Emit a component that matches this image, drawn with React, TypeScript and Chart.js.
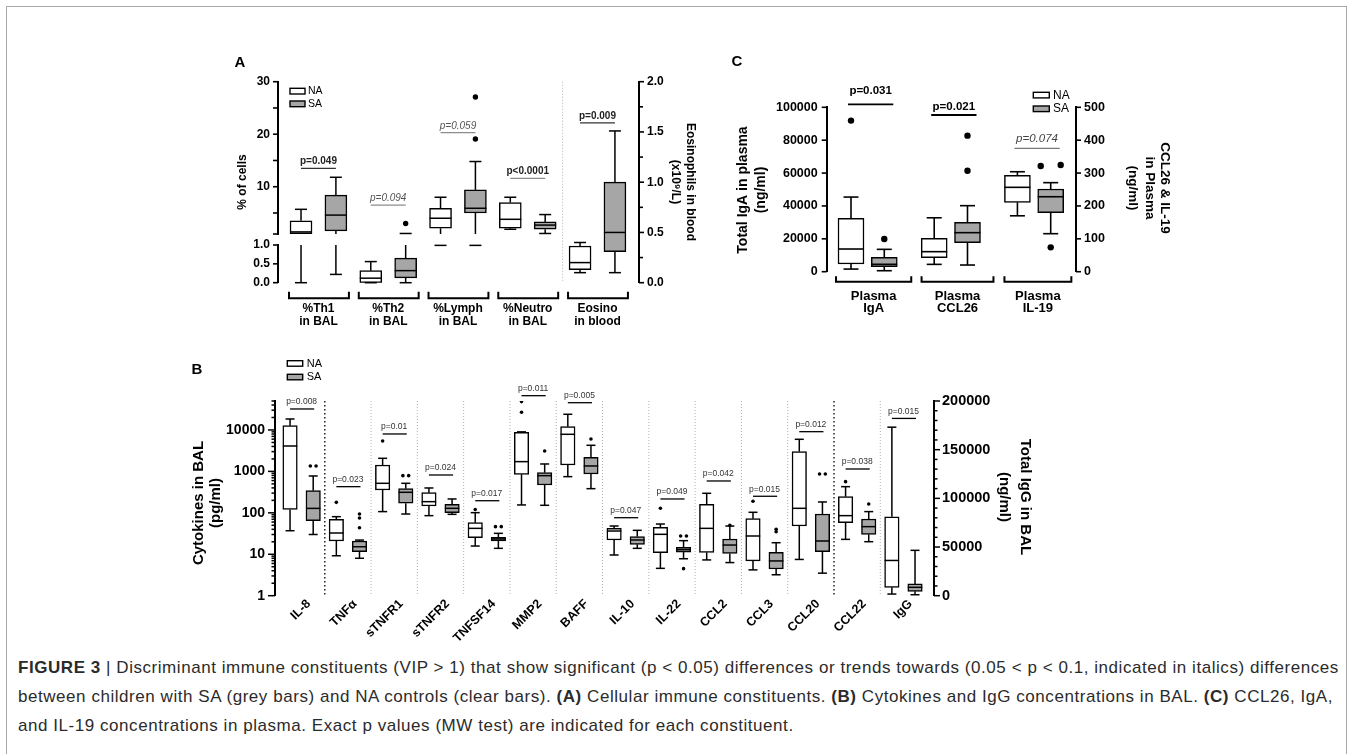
import React, { useEffect, useRef } from 'react';
import { Chart, registerables } from 'chart.js';

Chart.register(...registerables);

const FONT = "'Liberation Sans', Arial, Helvetica, sans-serif";
Chart.defaults.font.family = FONT;

const WHITE = '#ffffff';
const GREY = '#a6a6a6';

/* ====================== Panel A : cellular constituents ====================== */
const A_LABELS: string[][] = [
  ['%Th1', 'in BAL'],
  ['%Th2', 'in BAL'],
  ['%Lymph', 'in BAL'],
  ['%Neutro', 'in BAL'],
  ['Eosino', 'in blood'],
];
const A_AXIS = ['left', 'left', 'left', 'left', 'right'];
// [min, Q1, median, Q3, max]
const A_NA: number[][] = [
  [0, 1.05, 1.4, 3.5, 5.7],
  [0, 0, 0.12, 0.32, 0.56],
  [0.99, 2.1, 4.0, 5.9, 8.0],
  [1.9, 2.1, 3.8, 7.0, 8.0],
  [0.1, 0.13, 0.2, 0.365, 0.4],
];
const A_SA: number[][] = [
  [0.22, 1.6, 4.6, 8.4, 11.8],
  [0, 0.13, 0.32, 0.65, 1.1],
  [0.99, 5.0, 5.9, 9.4, 14.8],
  [1.1, 1.9, 2.7, 3.3, 4.7],
  [0.1, 0.31, 0.5, 1.0, 1.51],
];
const A_NA_OUT: number[][] = [[], [], [], [], []];
const A_SA_OUT: number[][] = [[], [3.0], [19.1, 27.1], [], []];
const A_P_TEXT = ['p=0.049', 'p=0.094', 'p=0.059', 'p<0.0001', 'p=0.009'];
const A_P_ITALIC = [false, true, true, false, false];
const A_P_LEVEL = [13.5, 6.5, 20.3, 11.6, 1.59];
const A_TOP_TICKS = [1, 5, 10, 15, 20, 25, 30];
const A_BOT_TICKS = [0, 0.5, 1];
const A_RIGHT_TICKS = [0, 0.25, 0.5, 0.75, 1, 1.25, 1.5, 1.75, 2];
const A_P_LINE_COLOR = ['#333', '#8c8c8c', '#8c8c8c', '#8c8c8c', '#333'];

/* ====================== Panel B : cytokines & IgG in BAL ====================== */
const B_LABELS = ['IL-8', 'TNFα', 'sTNFR1', 'sTNFR2', 'TNFSF14', 'MMP2', 'BAFF', 'IL-10', 'IL-22', 'CCL2', 'CCL3', 'CCL20', 'CCL22', 'IgG'];
const B_AXIS = ['left', 'left', 'left', 'left', 'left', 'left', 'left', 'left', 'left', 'left', 'left', 'left', 'left', 'right'];
const B_NA: number[][] = [
  [37, 121, 4100, 12700, 18400],
  [9.2, 20.9, 32.6, 69.7, 80.8],
  [107, 356, 516, 1429, 2070],
  [85.5, 146, 186, 307, 398],
  [15.8, 25.1, 42.2, 57.9, 101],
  [155, 851, 1720, 8790, 9000],
  [747, 1429, 7860, 12030, 23900],
  [9.6, 22.1, 36.4, 42.2, 48.1],
  [4.57, 10.9, 30.3, 44.7, 53.7],
  [7.3, 11.1, 42.2, 160, 296],
  [4.2, 6.9, 27.6, 72.3, 103],
  [7.5, 48, 128.5, 3000, 5955],
  [22.9, 57.9, 85.5, 245.6, 428],
  [1700, 8600, 36200, 81000, 173100],
];
const B_SA: number[][] = [
  [30, 64.7, 128, 343, 775],
  [8, 11.5, 15.2, 20.9, 22],
  [93.7, 170, 313, 383, 516],
  [92, 101, 128.5, 160, 216],
  [13.9, 20.9, 23.4, 25.6, 32],
  [152, 470, 789, 933, 1510],
  [383, 866, 1352, 2188, 4265],
  [13.9, 17.4, 22.1, 26.6, 37.8],
  [7.8, 11.3, 12.9, 14.7, 21.3],
  [6.3, 10.5, 16.7, 23.4, 48],
  [3.2, 4.4, 6.9, 11.1, 19],
  [3.5, 11.5, 20.9, 93.7, 183],
  [20.1, 30.3, 46.4, 71, 107],
  [1000, 4500, 8600, 12100, 46600],
];
const B_NA_OUT: number[][] = [[], [179], [5420], [], [120], [26700, 48300], [], [], [128.5], [], [190], [], [566], []];
const B_SA_OUT: number[][] = [[1352, 1352], [93.7, 75, 43.8], [789, 789], [], [46.4, 46.4], [3110], [6064], [], [27.6, 27.6, 4.5], [50], [40, 35], [866, 866], [163], []];
const B_P_TEXT = ['p=0.008', 'p=0.023', 'p=0.01', 'p=0.024', 'p=0.017', 'p=0.011', 'p=0.005', 'p=0.047', 'p=0.049', 'p=0.042', 'p=0.015', 'p=0.012', 'p=0.038', 'p=0.015'];
const B_P_LEVEL = [32100, 428, 8000, 819, 196, 67200, 45500, 76.3, 216, 587, 251, 9090, 1143, 182100];
const B_LEFT_TICKS = [1, 10, 100, 1000, 10000]
  .reduce((acc: number[], d) => acc.concat([1, 2, 3, 4, 5, 6, 7, 8, 9].map((m) => m * d)), [])
  .filter((v) => v <= 50000);
const B_RIGHT_TICKS = Array.from({ length: 21 }, (_, i) => i * 10000);
const B_DARK_SEPARATORS = [0, 11];

/* ====================== Panel C : plasma ====================== */
const C_LABELS: string[][] = [
  ['Plasma', 'IgA'],
  ['Plasma', 'CCL26'],
  ['Plasma', 'IL-19'],
];
const C_AXIS = ['left', 'right', 'right'];
const C_NA: number[][] = [
  [1600, 4700, 13800, 32400, 45400],
  [22.3, 42.6, 60.9, 101.4, 164],
  [170, 211, 256.6, 293, 304],
];
const C_SA: number[][] = [
  [600, 3000, 4500, 8700, 13600],
  [20.3, 88, 118.7, 150, 200.8],
  [115.6, 179.5, 228, 251.5, 270.8],
];
const C_NA_OUT: number[][] = [[91900], [], []];
const C_SA_OUT: number[][] = [[19900], [307, 413.8], [74, 321.5, 324.5]];
const C_P_TEXT = ['p=0.031', 'p=0.021', 'p=0.074'];
const C_P_ITALIC = [false, false, true];
const C_P_LEVEL = [101800, 476.6, 375.3];
const C_LEFT_TICKS = [0, 20000, 40000, 60000, 80000, 100000];
const C_RIGHT_TICKS = [0, 100, 200, 300, 400, 500];
const C_POS_NA = [0, 2.5, 5];
const C_POS_SA = [1, 3.5, 6];
// layout of the group brackets (x units)
const C_BRACKET_L = [-0.45, 2.12, 4.61];
const C_BRACKET_R = [1.81, 4.28, 6.62];
const C_P_TEXT_DY = [13.5, 8, 10];

/* ====================== helpers ====================== */
type Seg = { id: string; lo: number; hi: number };
type BoxItem = { x: number; s: number[]; segs: Seg[]; half: number; cap: number };
type TickSpec = { id: string; side: 'left' | 'right'; values: number[]; major: (v: number) => boolean; majorLen: number; minorLen: number };

const ALL = (id: string): Seg[] => [{ id, lo: -Infinity, hi: Infinity }];

function segPixel(chart: any, segs: Seg[], v: number): number {
  for (const s of segs) if (v >= s.lo && v <= s.hi) return chart.scales[s.id].getPixelForValue(v);
  const s = v > segs[0].hi ? segs[0] : segs[segs.length - 1];
  return chart.scales[s.id].getPixelForValue(v);
}

function boxDatasets(xs: number[], stats: number[][], segsFor: (i: number) => Seg[], fill: string, thick: number, lw: number) {
  const byScale: Record<string, { x: number; y: number[] }[]> = {};
  stats.forEach((s, i) => {
    for (const seg of segsFor(i)) {
      const lo = Math.max(s[1], seg.lo);
      const hi = Math.min(s[3], seg.hi);
      if (hi > lo) (byScale[seg.id] = byScale[seg.id] || []).push({ x: xs[i], y: [lo, hi] });
    }
  });
  return Object.keys(byScale).map((id) => ({
    type: 'bar',
    yAxisID: id,
    data: byScale[id],
    backgroundColor: fill,
    borderColor: '#000',
    borderWidth: lw,
    borderSkipped: false,
    barThickness: thick,
    grouped: false,
    order: 2,
  }));
}

function outlierDatasets(xs: number[], outs: number[][], segsFor: (i: number) => Seg[], spread: number, r: number) {
  const byScale: Record<string, { x: number; y: number }[]> = {};
  outs.forEach((arr, i) => {
    arr.forEach((v, k) => {
      const grp = arr.map((_, j) => j).filter((j) => Math.abs(arr[j] - v) <= 0.03 * Math.abs(v));
      const rank = grp.indexOf(k);
      const dx = (rank - (grp.length - 1) / 2) * spread;
      const segs = segsFor(i);
      const seg = segs.find((s) => v >= s.lo && v <= s.hi) || segs[0];
      (byScale[seg.id] = byScale[seg.id] || []).push({ x: xs[i] + dx, y: v });
    });
  });
  return Object.keys(byScale).map((id) => ({
    type: 'scatter',
    yAxisID: id,
    data: byScale[id],
    pointRadius: r,
    pointHoverRadius: r,
    pointBackgroundColor: '#000',
    pointBorderWidth: 0,
    borderWidth: 0,
    showLine: false,
    order: 1,
  }));
}

function whiskerPlugin(items: BoxItem[], lw: number) {
  return {
    id: 'whiskers',
    afterDatasetsDraw(chart: any) {
      const ctx = chart.ctx;
      const X = chart.scales.x;
      ctx.save();
      ctx.strokeStyle = '#000';
      ctx.lineWidth = lw;
      const vline = (px: number, segs: Seg[], a: number, b: number) => {
        const lo = Math.min(a, b);
        const hi = Math.max(a, b);
        for (const s of segs) {
          const l = Math.max(lo, s.lo);
          const h = Math.min(hi, s.hi);
          if (h > l) {
            const sc = chart.scales[s.id];
            ctx.beginPath();
            ctx.moveTo(px, sc.getPixelForValue(l));
            ctx.lineTo(px, sc.getPixelForValue(h));
            ctx.stroke();
          }
        }
      };
      const hline = (px: number, segs: Seg[], half: number, v: number) => {
        for (const s of segs) {
          if (v >= s.lo && v <= s.hi) {
            const y = chart.scales[s.id].getPixelForValue(v);
            ctx.beginPath();
            ctx.moveTo(px - half, y);
            ctx.lineTo(px + half, y);
            ctx.stroke();
            break;
          }
        }
      };
      for (const it of items) {
        const px = X.getPixelForValue(it.x);
        const [mn, q1, md, q3, mx] = it.s;
        vline(px, it.segs, q3, mx);
        vline(px, it.segs, mn, q1);
        hline(px, it.segs, it.cap, mx);
        hline(px, it.segs, it.cap, mn);
        hline(px, it.segs, it.half, md);
      }
      ctx.restore();
    },
  };
}

function tickPlugin(specs: TickSpec[], lw: number) {
  return {
    id: 'tickmarks',
    afterDraw(chart: any) {
      const ctx = chart.ctx;
      ctx.save();
      ctx.strokeStyle = '#000';
      ctx.lineWidth = lw;
      for (const sp of specs) {
        const sc = chart.scales[sp.id];
        const x0 = sp.side === 'left' ? sc.right : sc.left;
        const dir = sp.side === 'left' ? -1 : 1;
        for (const v of sp.values) {
          const y = sc.getPixelForValue(v);
          const len = sp.major(v) ? sp.majorLen : sp.minorLen;
          ctx.beginPath();
          ctx.moveTo(x0, y);
          ctx.lineTo(x0 + dir * len, y);
          ctx.stroke();
        }
      }
      ctx.restore();
    },
  };
}

function txt(ctx: any, s: string, x: number, y: number, font: string, color = '#000', align = 'center', rot = 0) {
  ctx.save();
  ctx.translate(x, y);
  if (rot) ctx.rotate(rot);
  ctx.font = font;
  ctx.fillStyle = color;
  ctx.textAlign = align;
  ctx.textBaseline = 'middle';
  ctx.fillText(s, 0, 0);
  ctx.restore();
}

function seg(ctx: any, x1: number, y1: number, x2: number, y2: number, color: string, lw: number, dash: number[] = []) {
  ctx.save();
  ctx.strokeStyle = color;
  ctx.lineWidth = lw;
  ctx.setLineDash(dash);
  ctx.beginPath();
  ctx.moveTo(x1, y1);
  ctx.lineTo(x2, y2);
  ctx.stroke();
  ctx.restore();
}

function bracket(ctx: any, x1: number, x2: number, y: number, up: number, lw: number) {
  ctx.save();
  ctx.strokeStyle = '#000';
  ctx.lineWidth = lw;
  ctx.lineJoin = 'miter';
  ctx.beginPath();
  ctx.moveTo(x1, y - up);
  ctx.lineTo(x1, y);
  ctx.lineTo(x2, y);
  ctx.lineTo(x2, y - up);
  ctx.stroke();
  ctx.restore();
}

function legendBox(ctx: any, x: number, y: number, w: number, h: number, fill: string) {
  ctx.save();
  ctx.fillStyle = fill;
  ctx.fillRect(x, y, w, h);
  ctx.strokeStyle = '#000';
  ctx.lineWidth = 1.4;
  ctx.strokeRect(x, y, w, h);
  ctx.restore();
}

function yScale(o: any) {
  return {
    type: o.type || 'linear',
    position: o.position,
    min: o.min,
    max: o.max,
    stack: o.stack,
    stackWeight: o.stackWeight,
    weight: o.weight || 0,
    afterBuildTicks: (s: any) => {
      s.ticks = o.ticks.map((v: number) => ({ value: v }));
    },
    afterFit: (s: any) => {
      s.width = o.width;
    },
    ticks: {
      autoSkip: false,
      padding: o.padding,
      color: '#000',
      font: { family: FONT, size: o.size, weight: 'bold' },
      callback: (v: any) => o.label(Number(v)),
    },
    grid: { display: false, drawTicks: false },
    border: { display: true, color: '#000', width: 2 },
  };
}

function makeChart(canvas: HTMLCanvasElement, datasets: any[], scales: any, plugins: any[], padding: any) {
  return new Chart(canvas, {
    type: 'bar',
    data: { datasets },
    options: {
      responsive: false,
      animation: false,
      events: [],
      layout: { padding },
      plugins: { legend: { display: false }, tooltip: { enabled: false } },
      scales,
    },
    plugins,
  } as any);
}

const isHalf = (v: number) => Math.abs(v * 2 - Math.round(v * 2)) < 1e-6;
const isPow10 = (v: number) => v > 0 && Math.abs(Math.log10(v) - Math.round(Math.log10(v))) < 1e-9;

/* ====================== Panel A ====================== */
function buildA(canvas: HTMLCanvasElement) {
  const OX = 200;
  const OY = 40;
  const xNA = A_LABELS.map((_, i) => 2 * i);
  const xSA = A_LABELS.map((_, i) => 2 * i + 1);
  const LEFT: Seg[] = [
    { id: 'yTop', lo: 1, hi: 30 },
    { id: 'yBot', lo: 0, hi: 1 },
  ];
  const RIGHT = ALL('yR');
  const segsFor = (i: number) => (A_AXIS[i] === 'right' ? RIGHT : LEFT);
  const datasets = [
    ...boxDatasets(xNA, A_NA, segsFor, WHITE, 22, 1.5),
    ...boxDatasets(xSA, A_SA, segsFor, GREY, 22, 1.5),
    ...outlierDatasets(xNA, A_NA_OUT, segsFor, 0.2, 2.7),
    ...outlierDatasets(xSA, A_SA_OUT, segsFor, 0.2, 2.7),
  ];
  const items: BoxItem[] = [
    ...xNA.map((x, i) => ({ x, s: A_NA[i], segs: segsFor(i), half: 11, cap: 6 })),
    ...xSA.map((x, i) => ({ x, s: A_SA[i], segs: segsFor(i), half: 11, cap: 6 })),
  ];
  const scales = {
    x: { type: 'linear', display: false, min: -0.66, max: 9.69, offset: false },
    yTop: yScale({ position: 'left', min: 1, max: 30, ticks: A_TOP_TICKS, label: (v: number) => (v % 10 === 0 ? String(v) : ''), width: 78, size: 12, padding: 8, stack: 'A', stackWeight: 152.3, weight: 3 }),
    yGap: { type: 'linear', position: 'left', min: 0, max: 1, display: false, stack: 'A', stackWeight: 11, weight: 2 },
    yBot: yScale({ position: 'left', min: 0, max: 1, ticks: A_BOT_TICKS, label: (v: number) => v.toFixed(1), width: 78, size: 12, padding: 8, stack: 'A', stackWeight: 37.7, weight: 1 }),
    yR: yScale({ position: 'right', min: 0, max: 2, ticks: A_RIGHT_TICKS, label: (v: number) => (isHalf(v) ? v.toFixed(1) : ''), width: 81, size: 12, padding: 8 }),
  };
  const ticks = tickPlugin(
    [
      { id: 'yTop', side: 'left', values: A_TOP_TICKS, major: () => true, majorLen: 5, minorLen: 5 },
      { id: 'yBot', side: 'left', values: A_BOT_TICKS, major: () => true, majorLen: 5, minorLen: 5 },
      { id: 'yR', side: 'right', values: A_RIGHT_TICKS, major: isHalf, majorLen: 5, minorLen: 4 },
    ],
    1.6
  );
  const annot = {
    id: 'annotA',
    beforeDatasetsDraw(chart: any) {
      const X = chart.scales.x;
      const a = chart.chartArea;
      const sx = X.getPixelForValue(7.5);
      seg(chart.ctx, sx, a.top, sx, a.bottom, '#b0b0b0', 1, [1, 2]);
    },
    afterDraw(chart: any) {
      const ctx = chart.ctx;
      const X = chart.scales.x;
      txt(ctx, 'A', 240 - OX, 63 - OY, `bold 15px ${FONT}`);
      legendBox(ctx, 290 - OX, 88.3 - OY, 15, 5.7, WHITE);
      legendBox(ctx, 290 - OX, 101 - OY, 15, 5.7, GREY);
      txt(ctx, 'NA', 308 - OX, 91.5 - OY, `10.5px ${FONT}`, '#000', 'left');
      txt(ctx, 'SA', 308 - OX, 104.5 - OY, `10.5px ${FONT}`, '#000', 'left');
      txt(ctx, '% of cells', 243 - OX, 182 - OY, `bold 12px ${FONT}`, '#000', 'center', -Math.PI / 2);
      txt(ctx, 'Eosinophils in blood', 690 - OX, 182 - OY, `bold 12px ${FONT}`, '#000', 'center', Math.PI / 2);
      txt(ctx, '(x10⁹/L)', 675 - OX, 182 - OY, `bold 12px ${FONT}`, '#000', 'center', Math.PI / 2);
      A_LABELS.forEach((lab, i) => {
        const p1 = X.getPixelForValue(xNA[i]);
        const p2 = X.getPixelForValue(xSA[i]);
        bracket(ctx, p1 - 12, p2 + 13, 298.3 - OY, 6.5, 2);
        const cx = (p1 + p2) / 2;
        txt(ctx, lab[0], cx, 308.5 - OY, `bold 12px ${FONT}`);
        txt(ctx, lab[1], cx, 322 - OY, `bold 12px ${FONT}`);
        const y = segPixel(chart, segsFor(i), A_P_LEVEL[i]);
        seg(ctx, p1, y, p2, y, A_P_LINE_COLOR[i], 1.3);
        const it = A_P_ITALIC[i];
        txt(ctx, A_P_TEXT[i], cx, y - 6.8, `${it ? 'italic ' : 'bold '}10px ${FONT}`, it ? '#555' : '#222');
      });
    },
  };
  return makeChart(canvas, datasets, scales, [whiskerPlugin(items, 1.5), ticks, annot], { top: 41.7, bottom: 52.3, left: 0, right: 0 });
}

/* ====================== Panel B ====================== */
function buildB(canvas: HTMLCanvasElement) {
  const OX = 185;
  const OY = 335;
  const xNA = B_LABELS.map((_, i) => 2 * i);
  const xSA = B_LABELS.map((_, i) => 2 * i + 1);
  const segsFor = (i: number) => (B_AXIS[i] === 'right' ? ALL('yR') : ALL('yL'));
  const datasets = [
    ...boxDatasets(xNA, B_NA, segsFor, WHITE, 14.5, 1.5),
    ...boxDatasets(xSA, B_SA, segsFor, GREY, 14.5, 1.5),
    ...outlierDatasets(xNA, B_NA_OUT, segsFor, 0.25, 1.8),
    ...outlierDatasets(xSA, B_SA_OUT, segsFor, 0.25, 1.8),
  ];
  const items: BoxItem[] = [
    ...xNA.map((x, i) => ({ x, s: B_NA[i], segs: segsFor(i), half: 7.25, cap: 4.5 })),
    ...xSA.map((x, i) => ({ x, s: B_SA[i], segs: segsFor(i), half: 7.25, cap: 4.5 })),
  ];
  const scales = {
    x: { type: 'linear', display: false, min: -0.65, max: 27.82, offset: false },
    yL: yScale({ type: 'logarithmic', position: 'left', min: 1, max: 50000, ticks: B_LEFT_TICKS, label: (v: number) => (isPow10(v) ? String(Math.round(v)) : ''), width: 90, size: 14, padding: 10 }),
    yR: yScale({ position: 'right', min: 0, max: 200000, ticks: B_RIGHT_TICKS, label: (v: number) => (v % 50000 === 0 ? String(v) : ''), width: 106, size: 14.5, padding: 8 }),
  };
  const ticks = tickPlugin(
    [
      { id: 'yL', side: 'left', values: B_LEFT_TICKS, major: isPow10, majorLen: 7, minorLen: 3.5 },
      { id: 'yR', side: 'right', values: B_RIGHT_TICKS, major: (v: number) => v % 50000 === 0, majorLen: 6, minorLen: 3.5 },
    ],
    1.5
  );
  const annot = {
    id: 'annotB',
    beforeDatasetsDraw(chart: any) {
      const X = chart.scales.x;
      const a = chart.chartArea;
      for (let g = 0; g < B_LABELS.length - 1; g++) {
        const sx = X.getPixelForValue(2 * g + 1.5);
        if (B_DARK_SEPARATORS.indexOf(g) >= 0) seg(chart.ctx, sx, a.top, sx, a.bottom, '#222', 1.5, [1.5, 2.5]);
        else seg(chart.ctx, sx, a.top, sx, a.bottom, '#b0b0b0', 1, [1, 2]);
      }
    },
    afterDraw(chart: any) {
      const ctx = chart.ctx;
      const X = chart.scales.x;
      txt(ctx, 'B', 197 - OX, 370 - OY, `bold 15px ${FONT}`);
      legendBox(ctx, 287.3 - OX, 360.7 - OY, 15.4, 5.5, WHITE);
      legendBox(ctx, 287.3 - OX, 374.3 - OY, 15.4, 5.5, GREY);
      txt(ctx, 'NA', 306.7 - OX, 363.7 - OY, `11px ${FONT}`, '#000', 'left');
      txt(ctx, 'SA', 306.7 - OX, 377.3 - OY, `11px ${FONT}`, '#000', 'left');
      txt(ctx, 'Cytokines in BAL', 199 - OX, 503 - OY, `bold 15px ${FONT}`, '#000', 'center', -Math.PI / 2);
      txt(ctx, '(pg/ml)', 215.5 - OX, 503 - OY, `bold 15px ${FONT}`, '#000', 'center', -Math.PI / 2);
      txt(ctx, 'Total IgG in BAL', 1025 - OX, 497 - OY, `bold 15px ${FONT}`, '#000', 'center', Math.PI / 2);
      txt(ctx, '(ng/ml)', 1004 - OX, 497 - OY, `bold 15px ${FONT}`, '#000', 'center', Math.PI / 2);
      B_LABELS.forEach((lab, i) => {
        const p1 = X.getPixelForValue(xNA[i]);
        const p2 = X.getPixelForValue(xSA[i]);
        const cx = (p1 + p2) / 2;
        txt(ctx, lab, cx + 7, 602 - OY, `bold 12.5px ${FONT}`, '#000', 'right', -Math.PI / 4);
        const y = segPixel(chart, segsFor(i), B_P_LEVEL[i]);
        seg(ctx, p1, y, p2 + 1, y, '#000', 1.3);
        txt(ctx, B_P_TEXT[i], cx, y - 7, `8.5px ${FONT}`, '#333');
      });
    },
  };
  return makeChart(canvas, datasets, scales, [whiskerPlugin(items, 1.5), ticks, annot], { top: 66, bottom: 54.3, left: 0, right: 0 });
}

/* ====================== Panel C ====================== */
function buildC(canvas: HTMLCanvasElement) {
  const OX = 725;
  const OY = 50;
  const segsFor = (i: number) => (C_AXIS[i] === 'right' ? ALL('yR') : ALL('yL'));
  const datasets = [
    ...boxDatasets(C_POS_NA, C_NA, segsFor, WHITE, 26, 1.5),
    ...boxDatasets(C_POS_SA, C_SA, segsFor, GREY, 26, 1.5),
    ...outlierDatasets(C_POS_NA, C_NA_OUT, segsFor, 0.6, 3.2),
    ...outlierDatasets(C_POS_SA, C_SA_OUT, segsFor, 0.6, 3.2),
  ];
  const items: BoxItem[] = [
    ...C_POS_NA.map((x, i) => ({ x, s: C_NA[i], segs: segsFor(i), half: 13, cap: 7.5 })),
    ...C_POS_SA.map((x, i) => ({ x, s: C_SA[i], segs: segsFor(i), half: 13, cap: 7.5 })),
  ];
  const scales = {
    x: { type: 'linear', display: false, min: -0.73, max: 6.76, offset: false },
    yL: yScale({ position: 'left', min: 0, max: 100000, ticks: C_LEFT_TICKS, label: (v: number) => String(v), width: 101.7, size: 12.5, padding: 9 }),
    yR: yScale({ position: 'right', min: 0, max: 500, ticks: C_RIGHT_TICKS, label: (v: number) => String(v), width: 104, size: 12.5, padding: 8 }),
  };
  const ticks = tickPlugin(
    [
      { id: 'yL', side: 'left', values: C_LEFT_TICKS, major: () => true, majorLen: 5, minorLen: 5 },
      { id: 'yR', side: 'right', values: C_RIGHT_TICKS, major: () => true, majorLen: 5, minorLen: 5 },
    ],
    1.6
  );
  const annot = {
    id: 'annotC',
    afterDraw(chart: any) {
      const ctx = chart.ctx;
      const X = chart.scales.x;
      txt(ctx, 'C', 737 - OX, 62 - OY, `bold 15px ${FONT}`);
      legendBox(ctx, 1033.3 - OX, 92.3 - OY, 16, 5.6, WHITE);
      legendBox(ctx, 1033.3 - OX, 106 - OY, 16, 5.6, GREY);
      txt(ctx, 'NA', 1053 - OX, 95.3 - OY, `12px ${FONT}`, '#000', 'left');
      txt(ctx, 'SA', 1053 - OX, 109 - OY, `12px ${FONT}`, '#000', 'left');
      txt(ctx, 'Total IgA in plasma', 743.5 - OX, 190 - OY, `bold 14px ${FONT}`, '#000', 'center', -Math.PI / 2);
      txt(ctx, '(ng/ml)', 761.5 - OX, 190 - OY, `bold 14px ${FONT}`, '#000', 'center', -Math.PI / 2);
      txt(ctx, 'CCL26 & IL-19', 1165 - OX, 188 - OY, `bold 13.5px ${FONT}`, '#000', 'center', Math.PI / 2);
      txt(ctx, 'in Plasma', 1150 - OX, 188 - OY, `bold 13.5px ${FONT}`, '#000', 'center', Math.PI / 2);
      txt(ctx, '(ng/ml)', 1133 - OX, 188 - OY, `bold 13.5px ${FONT}`, '#000', 'center', Math.PI / 2);
      C_LABELS.forEach((lab, i) => {
        const b1 = X.getPixelForValue(C_BRACKET_L[i]);
        const b2 = X.getPixelForValue(C_BRACKET_R[i]);
        bracket(ctx, b1, b2, 281.7 - OY, 5.5, 2);
        const bx = (b1 + b2) / 2;
        txt(ctx, lab[0], bx, 296 - OY, `bold 13px ${FONT}`);
        txt(ctx, lab[1], bx, 308.5 - OY, `bold 13px ${FONT}`);
        const p1 = X.getPixelForValue(C_POS_NA[i]);
        const p2 = X.getPixelForValue(C_POS_SA[i]);
        const y = segPixel(chart, segsFor(i), C_P_LEVEL[i]);
        const it = C_P_ITALIC[i];
        seg(ctx, p1 - 3, y, p2 + 9, y, it ? '#777' : '#000', it ? 1.3 : 1.8);
        txt(ctx, C_P_TEXT[i], (p1 + p2) / 2 + 3, y - C_P_TEXT_DY[i], `${it ? 'italic ' : 'bold '}11.5px ${FONT}`, it ? '#444' : '#000');
      });
    },
  };
  return makeChart(canvas, datasets, scales, [whiskerPlugin(items, 1.6), ticks, annot], { top: 57.3, bottom: 58.3, left: 0, right: 0 });
}

function ChartCanvas(props: { left: number; top: number; width: number; height: number; build: (c: HTMLCanvasElement) => Chart }) {
  const ref = useRef<HTMLCanvasElement | null>(null);
  useEffect(() => {
    const chart = props.build(ref.current as HTMLCanvasElement);
    return () => chart.destroy();
  }, []);
  return (
    <canvas
      ref={ref}
      width={props.width}
      height={props.height}
      style={{ position: 'absolute', left: props.left, top: props.top, width: props.width, height: props.height }}
    />
  );
}

const captionStyle: React.CSSProperties = {
  position: 'absolute',
  left: 18,
  whiteSpace: 'nowrap',
  fontFamily: FONT,
  fontSize: 17,
  letterSpacing: '0.55px',
  lineHeight: '20px',
  color: '#2b2b2b',
};

export default function App() {
  return (
    <div style={{ position: 'fixed', left: 0, top: 0, width: 1352, height: 754, background: '#fff', overflow: 'hidden' }}>
      <div style={{ position: 'absolute', left: 6, top: 6, width: 1341, height: 800, border: '1px solid #a9a9a9', boxSizing: 'border-box' }} />
      <ChartCanvas left={200} top={40} width={520} height={295} build={buildA} />
      <ChartCanvas left={725} top={50} width={455} height={280} build={buildC} />
      <ChartCanvas left={185} top={335} width={855} height={315} build={buildB} />
      <div style={{ ...captionStyle, top: 658 }}>
        <b>FIGURE 3</b> | Discriminant immune constituents (VIP &gt; 1) that show significant (p &lt; 0.05) differences or trends towards (0.05 &lt; p &lt; 0.1, indicated in italics) differences
      </div>
      <div style={{ ...captionStyle, top: 687 }}>
        between children with SA (grey bars) and NA controls (clear bars). <b>(A)</b> Cellular immune constituents. <b>(B)</b> Cytokines and IgG concentrations in BAL. <b>(C)</b> CCL26, IgA,
      </div>
      <div style={{ ...captionStyle, top: 716 }}>
        and IL-19 concentrations in plasma. Exact p values (MW test) are indicated for each constituent.
      </div>
    </div>
  );
}
